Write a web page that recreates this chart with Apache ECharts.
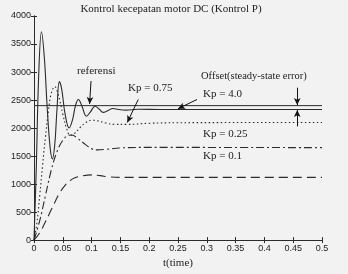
<!DOCTYPE html>
<html>
<head>
<meta charset="utf-8">
<script src="https://cdn.jsdelivr.net/npm/echarts@6/dist/echarts.min.js"></script>
<style>
  html, body { margin: 0; padding: 0; background: #f2f2f2; }
  #chart { width: 348px; height: 274px; }
</style>
</head>
<body>
<div id="chart"></div>
<script>
// data
const yTicks = [0, 500, 1000, 1500, 2000, 2500, 3000, 3500, 4000]
const xTicks = [0, 0.05, 0.1, 0.15, 0.2, 0.25, 0.3, 0.35, 0.4, 0.45, 0.5]

const refT = [0, 0.5]
const refV = [2400, 2400]

// Kp = 4.0 (solid)
const kp4T = [0, 0.004, 0.008, 0.013, 0.018, 0.023, 0.028, 0.032, 0.036, 0.040, 0.044, 0.048, 0.054, 0.061, 0.067, 0.072, 0.077, 0.083, 0.091, 0.098, 0.106, 0.113, 0.120, 0.128, 0.137, 0.147, 0.160, 0.180, 0.220, 0.5]
const kp4V = [0, 1300, 2900, 3720, 3250, 2350, 1650, 1450, 1700, 2350, 2830, 2700, 2250, 2000, 2150, 2400, 2510, 2400, 2210, 2290, 2390, 2340, 2280, 2310, 2350, 2330, 2320, 2335, 2330, 2330]

// Kp = 0.75 (dotted)
const kp075T = [0, 0.005, 0.010, 0.015, 0.020, 0.025, 0.030, 0.036, 0.042, 0.050, 0.057, 0.063, 0.070, 0.080, 0.090, 0.100, 0.110, 0.125, 0.140, 0.160, 0.200, 0.250, 0.5]
const kp075V = [0, 300, 800, 1350, 1850, 2300, 2620, 2740, 2600, 2250, 1980, 1870, 1900, 2010, 2100, 2140, 2130, 2090, 2065, 2065, 2085, 2095, 2100]

// Kp = 0.25 (dash-dot)
const kp025T = [0, 0.010, 0.020, 0.030, 0.040, 0.050, 0.060, 0.066, 0.075, 0.090, 0.100, 0.110, 0.125, 0.150, 0.200, 0.5]
const kp025V = [0, 350, 800, 1250, 1580, 1780, 1870, 1875, 1820, 1700, 1630, 1610, 1620, 1645, 1655, 1650]

// Kp = 0.1 (dashed)
const kp01T = [0, 0.010, 0.020, 0.028, 0.035, 0.045, 0.055, 0.0625, 0.070, 0.085, 0.100, 0.115, 0.130, 0.150, 0.5]
const kp01V = [0, 130, 330, 500, 650, 850, 990, 1060, 1110, 1150, 1165, 1150, 1130, 1120, 1120]

const zip = (t, v) => t.map((x, i) => [x, v[i]])

const ink = '#2b2b2b'
const serif = '"Liberation Serif", "DejaVu Serif", serif'
const sans = '"Liberation Sans", Arial, sans-serif'

const chart = echarts.init(document.getElementById('chart'))

const arrow = (from, to) => [{ coord: from }, { coord: to }]

const option = {
  backgroundColor: '#f2f2f2',
  animation: false,
  title: {
    text: 'Kontrol kecepatan motor DC (Kontrol P)',
    left: 166, top: -1, textAlign: 'center',
    textStyle: { fontFamily: serif, fontSize: 11, fontWeight: 'normal', color: '#222' }
  },
  grid: { left: 34, top: 16, width: 288, height: 225 },
  xAxis: [
    {
      type: 'value', min: 0, max: 0.5, interval: 0.05,
      axisLine: { lineStyle: { color: ink } },
      axisTick: { inside: true, length: 3, lineStyle: { color: ink } },
      splitLine: { show: false },
      axisLabel: {
        margin: 4, fontFamily: sans, fontSize: 9, color: '#222',
        formatter: v => xTicks.find(x => Math.abs(x - v) < 1e-9).toString()
      },
      name: 't(time)', nameLocation: 'middle', nameGap: 17,
      nameTextStyle: { fontFamily: serif, fontSize: 11, color: '#222' }
    },
    {
      type: 'value', min: 0, max: 0.5, interval: 0.05, position: 'top',
      axisLine: { lineStyle: { color: ink } },
      axisTick: { inside: true, length: 3, lineStyle: { color: ink } },
      axisLabel: { show: false }, splitLine: { show: false }
    }
  ],
  yAxis: [
    {
      type: 'value', min: 0, max: 4000, interval: 500,
      axisLine: { show: true, lineStyle: { color: ink } },
      axisTick: { show: true, inside: true, length: 3, lineStyle: { color: ink } },
      splitLine: { show: false },
      axisLabel: {
        margin: 3, fontFamily: sans, fontSize: 9, color: '#222',
        formatter: v => yTicks.includes(v) ? String(v) : ''
      }
    },
    {
      type: 'value', min: 0, max: 4000, interval: 500, position: 'right',
      axisLine: { show: true, lineStyle: { color: ink } },
      axisTick: { show: true, inside: true, length: 3, lineStyle: { color: ink } },
      axisLabel: { show: false }, splitLine: { show: false }
    }
  ],
  series: [
    {
      name: 'referensi', type: 'line', data: zip(refT, refV), showSymbol: false,
      lineStyle: { color: ink, width: 1 },
      markLine: {
        silent: true, symbol: ['none', 'arrow'], symbolSize: [5, 7],
        label: { show: false },
        lineStyle: { color: '#111', width: 1, type: 'solid' },
        data: [
          arrow([0.099, 2840], [0.0965, 2430]),   // referensi
          arrow([0.181, 2510], [0.162, 2100]),    // Kp = 0.75
          arrow([0.283, 2510], [0.250, 2345]),    // Kp = 4.0
          arrow([0.457, 2720], [0.457, 2410]),    // offset, down
          arrow([0.457, 2030], [0.457, 2320])     // offset, up
        ]
      }
    },
    {
      name: 'Kp = 4.0', type: 'line', data: zip(kp4T, kp4V), showSymbol: false, smooth: 0.4,
      lineStyle: { color: ink, width: 1.1 }
    },
    {
      name: 'Kp = 0.75', type: 'line', data: zip(kp075T, kp075V), showSymbol: false, smooth: 0.4,
      lineStyle: { color: ink, width: 1.1, type: [1.5, 2.5] }
    },
    {
      name: 'Kp = 0.25', type: 'line', data: zip(kp025T, kp025V), showSymbol: false, smooth: 0.4,
      lineStyle: { color: ink, width: 1.1, type: [8, 3, 2, 3] }
    },
    {
      name: 'Kp = 0.1', type: 'line', data: zip(kp01T, kp01V), showSymbol: false, smooth: 0.4,
      lineStyle: { color: ink, width: 1.1, type: [9, 5] }
    }
  ],
  graphic: [
    { type: 'text', left: 77, top: 66, style: { text: 'referensi', font: '11px ' + serif, fill: '#222' } },
    { type: 'text', left: 128, top: 83, style: { text: 'Kp = 0.75', font: '11px ' + serif, fill: '#222' } },
    { type: 'text', left: 201, top: 71, style: { text: 'Offset(steady-state error)', font: '10.5px ' + serif, fill: '#222' } },
    { type: 'text', left: 203, top: 89, style: { text: 'Kp = 4.0', font: '11px ' + serif, fill: '#222' } },
    { type: 'text', left: 203, top: 129, style: { text: 'Kp = 0.25', font: '11px ' + serif, fill: '#222' } },
    { type: 'text', left: 203, top: 151, style: { text: 'Kp = 0.1', font: '11px ' + serif, fill: '#222' } }
  ]
}

chart.setOption(option)
</script>
</body>
</html>
